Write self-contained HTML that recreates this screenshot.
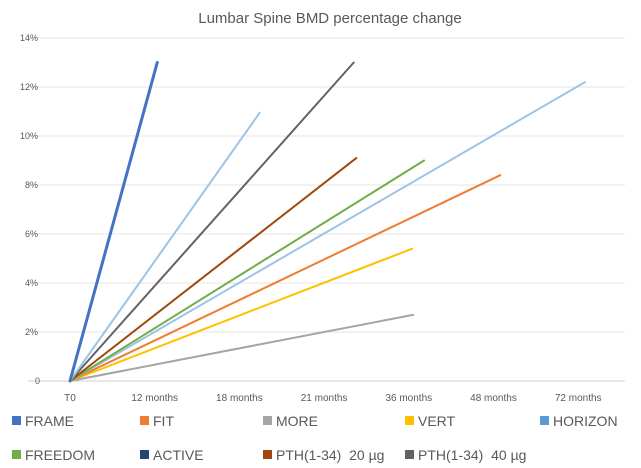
<!DOCTYPE html>
<html><head><meta charset="utf-8"><style>
body{margin:0;background:#fff;}
svg{display:block;font-family:"Liberation Sans",sans-serif;}
#legend text{white-space:pre;}
</style></head><body>
<svg id="chart" width="641" height="468">
<text x="330" y="23" text-anchor="middle" font-size="15" fill="#595959">Lumbar Spine BMD percentage change</text>
<g id="grid"></g><g id="xlabels"></g><g id="lines"></g><g id="legend"></g>
</svg>
<script>
const categories=["T0","12 months","18 months","21 months","36 months","48 months","72 months"];
const yTicks=[0,2,4,6,8,10,12,14];
const seriesNames=["FRAME","FIT","MORE","VERT","HORIZON","FREEDOM","ACTIVE","PTH(1-34)  20 µg","PTH(1-34)  40 µg"];
const seriesColors=["#4472c4","#ed7d31","#a5a5a5","#ffc000","#5b9bd5","#70ad47","#264478","#9e480e","#636363"];
const endIndex=[1.03,5.08,4.05,4.04,6.08,4.18,2.24,3.38,3.35];
const endValue=[13.0,8.4,2.7,5.4,12.2,9.0,10.95,9.1,13.0];
const lineColors=["#4472c4","#ed7d31","#a5a5a5","#ffc000","#9dc3e6","#70ad47","#9dc3e6","#9e480e","#636363"];
const NS="http://www.w3.org/2000/svg";
const x=i=>70+i*84.7;
const y=v=>381-v*24.5;
function mk(t,a,p){const e=document.createElementNS(NS,t);for(const k in a)e.setAttribute(k,a[k]);p.appendChild(e);return e;}
const grid=document.getElementById('grid');
yTicks.forEach(v=>{
 const l=mk('line',{x1:28,x2:625,y1:y(v),y2:y(v),stroke:v===0?'#d0d0d0':'#e4e4e4','stroke-width':1},grid);
 
 
 const t=mk('text',{x:v===0?40:38,y:y(v)+3,'text-anchor':'end','font-size':9,fill:'#595959'},grid);
 t.textContent=v===0?'0':v+'%';
 
 
});
const xl=document.getElementById('xlabels');
categories.forEach((c,i)=>{
 const t=mk('text',{x:x(i),y:401,'text-anchor':'middle','font-size':10,fill:'#595959'},xl);
 t.textContent=c;
 
 
});
const lg=document.getElementById('lines');
const order=[2,3,1,4,5,7,8,6,0];
order.forEach(i=>{
 const l=mk('line',{x1:x(0),y1:y(0),x2:x(endIndex[i]),y2:y(endValue[i]),stroke:lineColors[i],'stroke-width':i===0?3:2,'stroke-linecap':'round'},lg);
 
 
});
const leg=document.getElementById('legend');
const lx=[12,140,263,405,540];
seriesNames.forEach((n,i)=>{
 const r=Math.floor(i/5),c=i%5;
 const g=mk('g',{},leg);
 
 
 mk('rect',{x:lx[c],y:416+r*34,width:9,height:9,fill:seriesColors[i]},g);
 const t=mk('text',{x:lx[c]+13,y:426+r*34,'font-size':14,fill:'#595959'},g);
 t.textContent=n;
});
</script>
</body></html>
